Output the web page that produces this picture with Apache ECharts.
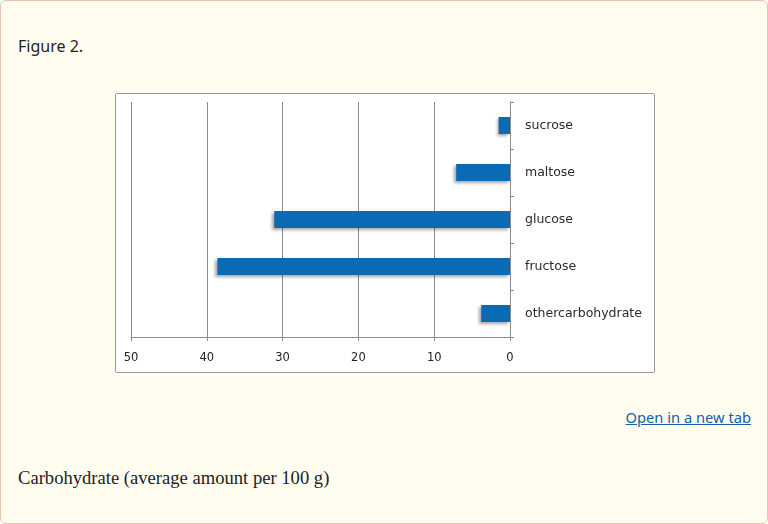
<!DOCTYPE html>
<html>
<head>
<meta charset="utf-8">
<script src="https://cdn.jsdelivr.net/npm/echarts@6/dist/echarts.min.js"></script>
<style>
html,body{margin:0;padding:0;width:768px;height:524px;overflow:hidden;background:#fff;}
#page{position:absolute;left:0;top:0;width:766px;height:522px;border:1px solid #e9c3ad;border-radius:6px;background:#fffdf0;}
#fig{position:absolute;left:17px;top:34px;font-family:"Noto Sans","Open Sans",sans-serif;font-size:16px;color:#222;}
#chartbox{position:absolute;left:114px;top:92px;width:538px;height:278px;border:1px solid #9a9a9a;border-radius:2px;background:#fff;}
#chart{width:538px;height:278px;}
#link{position:absolute;right:16px;top:406px;font-family:"Noto Sans","Open Sans",sans-serif;font-size:14.7px;color:#1560a8;text-decoration:underline;}
#cap{position:absolute;left:17px;top:466px;font-family:"Liberation Serif","DejaVu Serif",serif;font-size:18.6px;color:#222;}
</style>
</head>
<body>
<div id="page">
  <div id="fig">Figure 2.</div>
  <div id="chartbox"><div id="chart"></div></div>
  <div id="link">Open in a new tab</div>
  <div id="cap">Carbohydrate (average amount per 100 g)</div>
</div>
<script>
const categories = ["sucrose", "maltose", "glucose", "fructose", "othercarbohydrate"];
const values = [1.5, 7.1, 31.1, 38.6, 3.8];
const tickMin = 0, tickMax = 50, tickStep = 10;

const chart = echarts.init(document.getElementById('chart'), null, {renderer: 'canvas'});
chart.setOption({
  animation: false,
  backgroundColor: '#ffffff',
  grid: {left: 15, right: 144, top: 8, bottom: 35, containLabel: false},
  xAxis: {
    type: 'value',
    inverse: true,
    min: tickMin, max: tickMax, interval: tickStep,
    position: 'bottom',
    axisLine: {show: true, lineStyle: {color: '#8c8c8c', width: 1}},
    axisTick: {show: true, length: 4, lineStyle: {color: '#8c8c8c'}},
    splitLine: {show: true, lineStyle: {color: '#8c8c8c', width: 1}},
    axisLabel: {color: '#222', fontSize: 11.5, fontFamily: 'DejaVu Sans', margin: 15}
  },
  yAxis: {
    type: 'category',
    data: categories,
    inverse: true,
    position: 'right',
    axisLine: {show: true, lineStyle: {color: '#8c8c8c', width: 1}},
    axisTick: {show: true, inside: false, length: 4, lineStyle: {color: '#8c8c8c'}},
    axisLabel: {color: '#2a2a2a', fontSize: 12.5, fontFamily: 'DejaVu Sans', margin: 15},
    splitLine: {show: false}
  },
  series: [{
    type: 'bar',
    data: values,
    barWidth: 17,
    itemStyle: {
      color: '#0a6ab4',
      shadowColor: 'rgba(0,0,0,0.35)',
      shadowBlur: 3,
      shadowOffsetX: -2,
      shadowOffsetY: 2
    }
  }]
});
</script>
</body>
</html>
